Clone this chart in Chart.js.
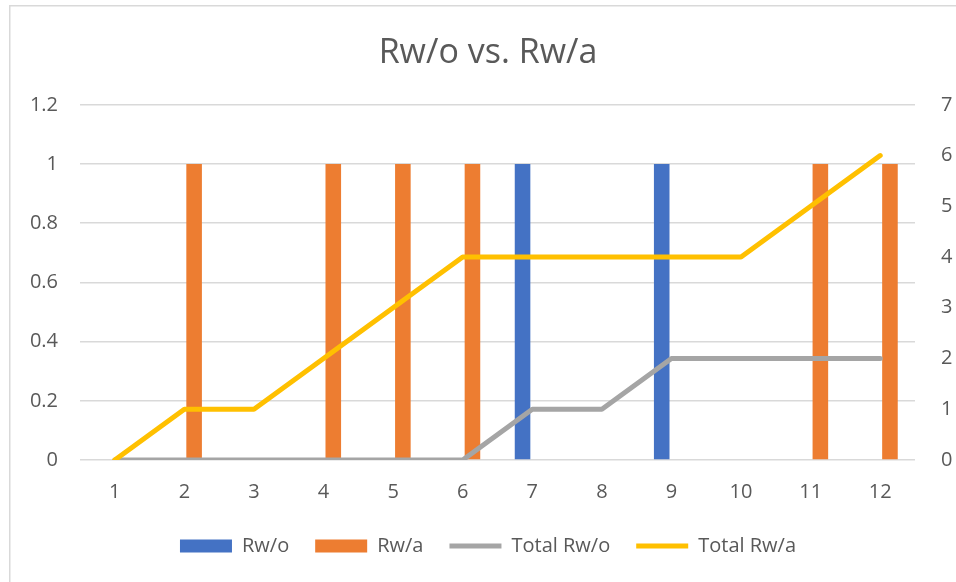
<!DOCTYPE html>
<html>
<head>
<meta charset="utf-8">
<script src="https://cdn.jsdelivr.net/npm/chart.js@4/dist/chart.umd.min.js"></script>
<style>
  html, body { margin: 0; padding: 0; background: #ffffff; }
  #wrap { width: 956px; height: 582px; }
</style>
</head>
<body>
<div id="wrap"><canvas id="chart" width="956" height="582"></canvas></div>
<script>
// Categories and series
const categories = ['1', '2', '3', '4', '5', '6', '7', '8', '9', '10', '11', '12'];
const rwo = [0, 0, 0, 0, 0, 0, 1, 0, 1, 0, 0, 0];
const rwa = [0, 1, 0, 1, 1, 1, 0, 0, 0, 0, 1, 1];
const totalRwo = [0, 0, 0, 0, 0, 0, 1, 1, 2, 2, 2, 2];
const totalRwa = [0, 1, 1, 2, 3, 4, 4, 4, 4, 4, 5, 6];

// Axis tick labels
const leftTicks = ['0', '0.2', '0.4', '0.6', '0.8', '1', '1.2'];
const rightTicks = ['0', '1', '2', '3', '4', '5', '6', '7'];

const FONT = "'Open Sans', 'Liberation Sans', sans-serif";
const TEXT = '#595959';
const GRID = '#d9d9d9';

// White background and the light frame around the chart
const frame = {
  id: 'frame',
  beforeDraw(chart) {
    const ctx = chart.ctx;
    ctx.save();
    ctx.fillStyle = '#ffffff';
    ctx.fillRect(0, 0, chart.width, chart.height);
    ctx.strokeStyle = GRID;
    ctx.lineWidth = 1.5;
    ctx.strokeRect(9.75, 5.75, chart.width + 20, chart.height + 20);
    ctx.restore();
  }
};

new Chart(document.getElementById('chart'), {
  type: 'bar',
  data: {
    labels: categories,
    datasets: [
      {
        label: 'Rw/o', data: rwo, backgroundColor: '#4472C4', borderWidth: 0,
        yAxisID: 'y', order: 2, pointStyle: 'rect',
        categoryPercentage: 0.56, barPercentage: 0.8
      },
      {
        label: 'Rw/a', data: rwa, backgroundColor: '#ED7D31', borderWidth: 0,
        yAxisID: 'y', order: 3, pointStyle: 'rect',
        categoryPercentage: 0.56, barPercentage: 0.8
      },
      {
        type: 'line', label: 'Total Rw/o', data: totalRwo, yAxisID: 'y1', order: 1,
        borderColor: '#A5A5A5', backgroundColor: '#A5A5A5', borderWidth: 5,
        borderCapStyle: 'round', borderJoinStyle: 'round',
        pointRadius: 0, tension: 0, fill: false, pointStyle: 'line'
      },
      {
        type: 'line', label: 'Total Rw/a', data: totalRwa, yAxisID: 'y1', order: 0,
        borderColor: '#FFC000', backgroundColor: '#FFC000', borderWidth: 5,
        borderCapStyle: 'round', borderJoinStyle: 'round',
        pointRadius: 0, tension: 0, fill: false, pointStyle: 'line'
      }
    ]
  },
  options: {
    responsive: false,
    animation: false,
    devicePixelRatio: 1,
    layout: { padding: { left: 20, right: 0, top: 0, bottom: 16 } },
    plugins: {
      title: {
        display: true,
        text: 'Rw/o vs. Rw/a',
        color: TEXT,
        font: { family: FONT, size: 34, weight: 'normal', lineHeight: 1.2 },
        padding: { top: 33, bottom: 31 }
      },
      legend: {
        position: 'bottom',
        labels: {
          color: TEXT,
          font: { family: FONT, size: 20 },
          usePointStyle: true,
          pointStyleWidth: 52,
          boxHeight: 13,
          padding: 26,
          sort: (a, b) => a.datasetIndex - b.datasetIndex
        }
      },
      tooltip: { enabled: false }
    },
    scales: {
      x: {
        grid: { display: false },
        border: { display: false },
        ticks: { color: TEXT, font: { family: FONT, size: 20 }, padding: 12 },
        afterFit(scale) { scale.height = 50; }
      },
      y: {
        position: 'left',
        min: 0, max: 1.2,
        grid: { color: GRID, lineWidth: 1.5, drawTicks: false },
        border: { display: false },
        ticks: {
          stepSize: 0.2, color: TEXT, font: { family: FONT, size: 20 }, padding: 22,
          callback: (v, i) => leftTicks[i]
        },
        afterFit(scale) { scale.width = 60; }
      },
      y1: {
        position: 'right',
        min: 0, max: 7,
        grid: { display: false, drawOnChartArea: false },
        border: { display: false },
        ticks: {
          stepSize: 1, color: TEXT, font: { family: FONT, size: 20 }, padding: 18,
          callback: (v, i) => rightTicks[i]
        },
        afterFit(scale) { scale.width = 41; }
      }
    }
  },
  plugins: [frame]
});
</script>
</body>
</html>
